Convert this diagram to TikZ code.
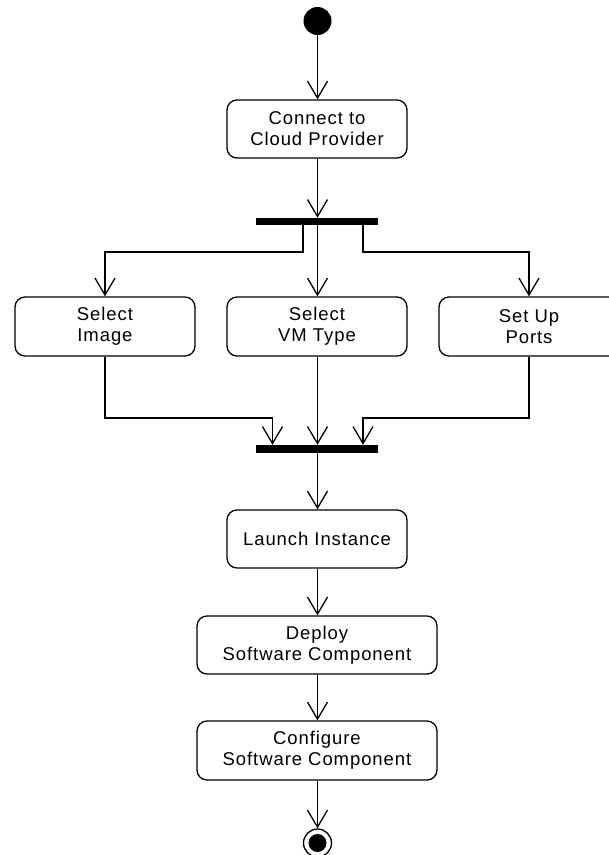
\documentclass[tikz,border=0pt]{standalone}
\usepackage{fontspec}
\setmainfont{Liberation Sans}[LetterSpace=5]
\usetikzlibrary{arrows.meta}
\begin{document}
\begin{tikzpicture}[x=1pt,y=-1pt,
  act/.style={draw, line width=1.3pt, rounded corners=10pt, minimum width=180pt,
    minimum height=58pt, inner sep=0pt, align=center,
    font=\fontsize{18.5}{21}\selectfont},
  wideact/.style={act, minimum width=240pt},
  syncbar/.style={fill=black, minimum width=122pt, minimum height=7pt, inner sep=0pt},
  flow/.style={line width=1.3pt, -{Straight Barb[length=17pt,width=20pt,line width=1.3pt]}}]
\useasboundingbox (0,0) rectangle (609,855);
\clip (0,0) rectangle (609,855);

\node[circle, fill=black, minimum size=28pt, inner sep=0pt] (start) at (317.5,21) {};
\node[act] (c1) at (317,129) {Connect to\\Cloud Provider};
\node[syncbar] (fork) at (317,221.5) {};
\node[act, minimum height=59pt] (img) at (105,326.5) {Select\\Image};
\node[act, minimum height=59pt] (vm) at (317,326.5) {Select\\VM Type};
\node[act, minimum height=59pt] (ports) at (529,326.5) {Set Up\\Ports};
\node[syncbar, minimum height=7.5pt] (join) at (317,448.75) {};
\node[act] (launch) at (317,539) {Launch Instance};
\node[wideact] (deploy) at (317,645) {Deploy\\Software Component};
\node[wideact, minimum height=59pt] (config) at (317,750.5) {Configure\\Software Component};
\node[circle, draw, line width=1.3pt, minimum size=28pt, inner sep=0pt] (end) at (317.5,843) {};
\node[circle, fill=black, minimum size=18pt, inner sep=0pt] (endin) at (317.5,843) {};

\coordinate (f1) at (303,252);
\coordinate (f3) at (363,252);
\coordinate (j1) at (272.5,418);
\coordinate (j3) at (363,418);

\draw[flow] (start) -- (c1.north -| start);
\draw[flow] (c1.south -| start) -- (fork.north -| start);
\draw[flow] (fork.south -| f1) -- (f1) -| (img.north);
\draw[flow] (fork.south -| start) -- (vm.north -| start);
\draw[flow] (fork.south -| f3) -- (f3) -| (ports.north);
\draw[flow] (img.south) |- (j1) -- (join.north -| j1);
\draw[flow] (vm.south -| start) -- (join.north -| start);
\draw[flow] (ports.south) |- (j3) -- (join.north -| j3);
\draw[flow] (join.south -| start) -- (launch.north -| start);
\draw[flow] (launch.south -| start) -- (deploy.north -| start);
\draw[flow] (deploy.south -| start) -- (config.north -| start);
\draw[flow] (config.south -| start) -- (end.north);
\end{tikzpicture}
\end{document}
